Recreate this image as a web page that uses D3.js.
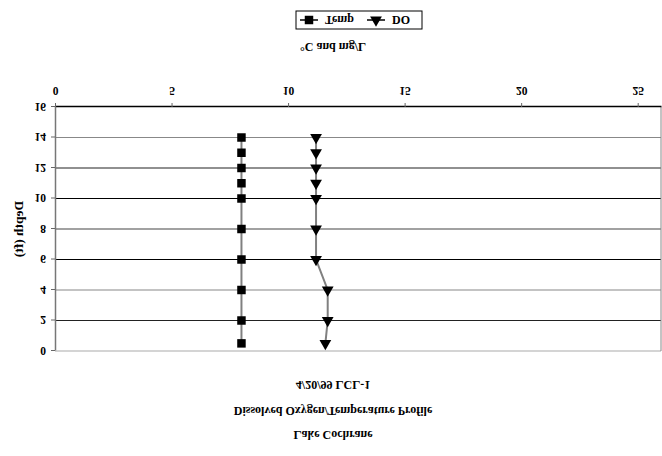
<!DOCTYPE html>
<html><head><meta charset="utf-8">
<script src="https://cdn.jsdelivr.net/npm/d3@7"></script>
<style>body{margin:0;background:#fff}svg{display:block}</style>
</head><body>
<svg id="c" width="662" height="456"></svg>
<script>
const titleLines = ["Lake Cochrane", "Dissolved Oxygen/Temperature Profile", "4/20/99  LCL-1"];
const xTicks = [0, 5, 10, 15, 20, 25];
const yTicks = [0, 2, 4, 6, 8, 10, 12, 14, 16];
const tempDepth = [0.5, 2, 4, 6, 8, 10, 11, 12, 13, 14];
const tempVal = [8.0, 8.0, 8.0, 8.0, 8.0, 8.0, 8.0, 8.0, 8.0, 8.0];
const doDepth = [0.5, 2, 4, 6, 8, 10, 11, 12, 13, 14];
const doVal = [11.6, 11.7, 11.7, 11.2, 11.2, 11.2, 11.2, 11.2, 11.2, 11.2];
const seriesNames = ["Temp", "DO"];

const svg = d3.select("#c");
// the whole picture is drawn upside down (vertically mirrored)
const g = svg.append("g").attr("transform", "translate(0,456) scale(1,-1)");
const font = "'Liberation Serif','Times New Roman',serif";

const x = d3.scaleLinear().domain([0, 26]).range([55, 661]);
const y = d3.scaleLinear().domain([0, 16]).range([105, 349]);

// gridlines
g.append("g").selectAll("line").data(yTicks.slice(0, -1)).join("line")
  .attr("x1", x(0)).attr("x2", x(26))
  .attr("y1", d => y(d)).attr("y2", d => y(d))
  .attr("stroke", (d, i) => ["#aaa", "#222", "#888", "#000", "#444", "#000", "#222", "#888"][i])
  .attr("stroke-width", 1.2);
// right border
g.append("line").attr("x1", x(26)).attr("x2", x(26)).attr("y1", y(0)).attr("y2", y(16))
  .attr("stroke", "#888").attr("stroke-width", 1);

// x axis (bottom in unflipped orientation)
const xa = g.append("g").attr("transform", `translate(0,${y(16)})`)
  .call(d3.axisBottom(x).tickValues(xTicks).tickSize(4).tickPadding(8).tickSizeOuter(0));
xa.select(".domain").attr("stroke", "#000").attr("stroke-width", 1.5);
xa.selectAll(".tick line").attr("stroke", "#666");
xa.selectAll("text").attr("font-family", font).attr("font-weight", "bold").attr("font-size", 11.5).attr("fill", "#000");

// y axis
const ya = g.append("g").attr("transform", `translate(${x(0)},0)`)
  .call(d3.axisLeft(y).tickValues(yTicks).tickSize(4).tickPadding(5).tickSizeOuter(0));
ya.select(".domain").attr("stroke", "#777").attr("stroke-width", 1.5);
ya.selectAll(".tick line").attr("stroke", "#666");
ya.selectAll("text").attr("font-family", font).attr("font-weight", "bold").attr("font-size", 11.5).attr("fill", "#000");

// axis titles
g.append("text").attr("x", 333).attr("y", 413).attr("text-anchor", "middle")
  .attr("font-family", font).attr("font-weight", "bold").attr("font-size", 12).text("°C and mg/L");
g.append("text").attr("transform", "translate(23,227) rotate(-90)").attr("text-anchor", "middle")
  .attr("font-family", font).attr("font-weight", "bold").attr("font-size", 13.5).text("Depth (ft)");

// titles
titleLines.forEach((t, i) => {
  g.append("text").attr("x", 333).attr("y", [25, 49, 75][i]).attr("text-anchor", "middle")
    .attr("font-family", font).attr("font-weight", "bold").attr("font-size", 12).text(t);
});

// series
const line = d3.line().x(d => x(d[0])).y(d => y(d[1]));
const tempPts = tempVal.map((v, i) => [v, tempDepth[i]]);
const doPts = doVal.map((v, i) => [v, doDepth[i]]);
g.append("path").attr("d", line(tempPts)).attr("fill", "none").attr("stroke", "#808080").attr("stroke-width", 2);
g.append("path").attr("d", line(doPts)).attr("fill", "none").attr("stroke", "#808080").attr("stroke-width", 2);
const sq = d3.symbol(d3.symbolSquare, 72);
const tri = d3.symbol(d3.symbolTriangle, 60);
g.append("g").selectAll("path").data(tempPts).join("path")
  .attr("transform", d => `translate(${x(d[0])},${y(d[1])})`).attr("d", sq).attr("fill", "#000");
g.append("g").selectAll("path").data(doPts).join("path")
  .attr("transform", d => `translate(${x(d[0])},${y(d[1])})`).attr("d", tri).attr("fill", "#000");

// legend
const lg = g.append("g");
lg.append("rect").attr("x", 296).attr("y", 427).attr("width", 126).attr("height", 18)
  .attr("fill", "#fff").attr("stroke", "#000").attr("stroke-width", 1);
const items = [{name: seriesNames[0], x0: 300, sym: sq}, {name: seriesNames[1], x0: 367, sym: tri}];
items.forEach(it => {
  lg.append("line").attr("x1", it.x0).attr("x2", it.x0 + 18).attr("y1", 436).attr("y2", 436)
    .attr("stroke", "#000").attr("stroke-width", 1.5);
  lg.append("path").attr("transform", `translate(${it.x0 + 9},436)`).attr("d", it.sym).attr("fill", "#000");
  lg.append("text").attr("x", it.x0 + 25).attr("y", 440).attr("font-family", font).attr("font-weight", "bold")
    .attr("font-size", 12).text(it.name);
});
</script>
</body></html>
